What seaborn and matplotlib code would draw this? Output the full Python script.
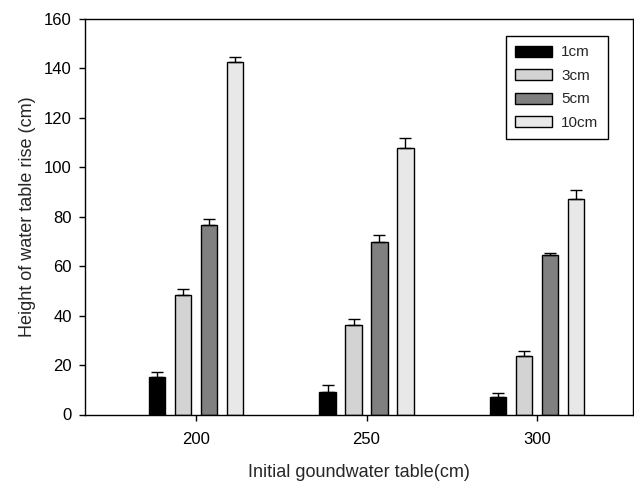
import numpy as np
import pandas as pd
import matplotlib
matplotlib.use("Agg")
import matplotlib.pyplot as plt
import seaborn as sns

tables = ["200", "250", "300"]
sizes = ["1cm", "3cm", "5cm", "10cm"]
rise_1cm = [15.0, 9.2, 7.0]
rise_3cm = [48.5, 36.2, 23.6]
rise_5cm = [76.8, 69.8, 64.5]
rise_10cm = [142.5, 108.0, 87.0]
err_1cm = [2.2, 2.8, 1.9]
err_3cm = [2.4, 2.5, 2.0]
err_5cm = [2.2, 2.8, 1.0]
err_10cm = [2.0, 3.8, 3.8]
colors = ["#000000", "#d3d3d3", "#808080", "#e8e8e8"]

rises = [rise_1cm, rise_3cm, rise_5cm, rise_10cm]
errs = [err_1cm, err_3cm, err_5cm, err_10cm]
df = pd.DataFrame({
    "table": tables * 4,
    "rise": sum(rises, []),
    "size": [s for s in sizes for _ in tables],
})

sns.set_style("ticks")
plt.rcParams["font.family"] = ["Liberation Sans", "DejaVu Sans"]

fig = plt.figure(figsize=(6.34, 4.82), dpi=100)
ax = fig.add_axes([85 / 634, 1 - 414.5 / 482, 548 / 634, 395.5 / 482])

sns.barplot(data=df, x="table", y="rise", hue="size", order=tables, hue_order=sizes,
            palette=colors, width=0.608, gap=0.365, edgecolor="black", linewidth=1,
            errorbar=None, ax=ax)

# upward-only error bars on each bar
for cont, e in zip(ax.containers, errs):
    xs = [p.get_x() + p.get_width() / 2 for p in cont.patches]
    hs = [p.get_height() for p in cont.patches]
    ax.errorbar(xs, hs, yerr=[np.zeros(len(e)), e], fmt="none", ecolor="black",
                elinewidth=1, capsize=4.3, capthick=1)

ax.set_ylim(0, 160)
ax.set_yticks(range(0, 161, 20))
ax.set_xlim(-0.651, 2.563)
for s in ax.spines.values():
    s.set_visible(True)
    s.set_color("black")
    s.set_linewidth(1)
ax.tick_params(axis="both", direction="out", length=4.5, width=1, labelsize=12,
               colors="black")
ax.tick_params(axis="y", pad=5)
ax.tick_params(axis="x", pad=8)
ax.set_xlabel("Initial goundwater table(cm)", fontsize=13, labelpad=12)
ax.set_ylabel("Height of water table rise (cm)", fontsize=13, labelpad=6)

ax.legend(title=None, loc="upper right", bbox_to_anchor=(0.954, 0.957), borderaxespad=0,
          frameon=True, fancybox=False, edgecolor="black", framealpha=1, fontsize=11,
          handlelength=2.4, handleheight=0.72, labelspacing=0.62, borderpad=0.62,
          handletextpad=0.6)
ax.get_legend().get_frame().set_linewidth(1)

fig.savefig("out.png", dpi=100)
